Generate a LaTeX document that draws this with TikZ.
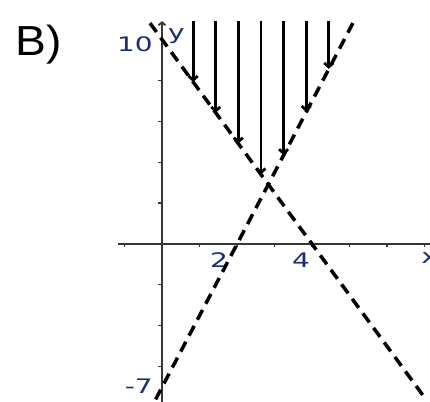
\documentclass[tikz,border=0pt]{standalone}
\usepackage{fontspec}
\usepackage{graphicx}
\setmainfont{Liberation Sans}
\newfontfamily\axisfont{DejaVu Sans}
\usetikzlibrary{arrows.meta}
\definecolor{labelblue}{RGB}{25,45,115}
\definecolor{axisgray}{RGB}{55,55,55}
\tikzset{
  axisline/.style={line width=1.8pt, draw=axisgray},
  tickline/.style={line width=1.2pt, draw=axisgray},
  boundary/.style={line width=3.5pt, dash pattern=on 11pt off 7pt},
  hatcharrow/.style={line width=2.8pt, -{Straight Barb[length=4pt,width=9pt]}},
  ticklabel/.style={font=\axisfont\fontsize{20}{20}\selectfont, text=labelblue, inner sep=0pt},
}
\newcommand{\wide}[1]{\scalebox{1.4}[1]{#1}}
\begin{document}
\begin{tikzpicture}[x=37.5pt, y=20.45pt]
  \useasboundingbox (-4.32,-7.726) rectangle (7.147,11.932);
  % axes
  \coordinate (xl) at (-1.17,0);
  \coordinate (xr) at (7.147,0);
  \coordinate (yb) at (0,-7.726);
  \coordinate (yt) at (0,10.9);
  \draw[axisline] (xl) -- (xr);
  \draw[axisline, -{Straight Barb[length=3pt,width=7pt]}] (yb) -- (yt);
  \foreach \i in {-1,1,2,...,7} \draw[tickline] (\i,0) -- (\i,-0.15);
  \foreach \j in {-6,-4,...,8} \draw[tickline] (0,\j) -- (-0.11,\j);
  % labels
  \node[anchor=base west, inner sep=0pt, font=\fontsize{42}{42}\selectfont] (part) at (-3.92,9.24) {\scalebox{1.1}[1]{B)}};
  \node[ticklabel, anchor=base east] (ymax) at (-0.24,9.39) {\wide{10}};
  \node[ticklabel, anchor=base east] (ymin) at (-0.24,-7.29) {\wide{-7}};
  \node[ticklabel, anchor=base west] (ylab) at (0.16,10.02) {\wide{y}};
  \node[ticklabel, anchor=base] (xtwo) at (1.52,-1.125) {\wide{2}};
  \node[ticklabel, anchor=base] (xfour) at (3.71,-1.125) {\wide{4}};
  \node[ticklabel, anchor=base west] (xlab) at (6.91,-0.93) {\wide{x}};
  % boundary lines
  \coordinate (upA) at (-0.17,-7.6);
  \coordinate (upB) at (5.09,10.8);
  \coordinate (dnA) at (-0.32,10.8);
  \coordinate (dnB) at (7.04,-7.6);
  \draw[boundary] (upA) -- (upB);
  \draw[boundary] (dnA) -- (dnB);
  % shading arrows
  \foreach \k in {0,...,6}{
    \pgfmathsetmacro\xa{0.83+0.603*\k}
    \pgfmathsetmacro\ya{max(10-2.5*\xa,3.5*\xa-7)}
    \coordinate (top\k) at (\xa,10.9);
    \coordinate (tip\k) at (\xa,\ya);
    \draw[hatcharrow] (top\k) -- (tip\k);
  }
\end{tikzpicture}
\end{document}
